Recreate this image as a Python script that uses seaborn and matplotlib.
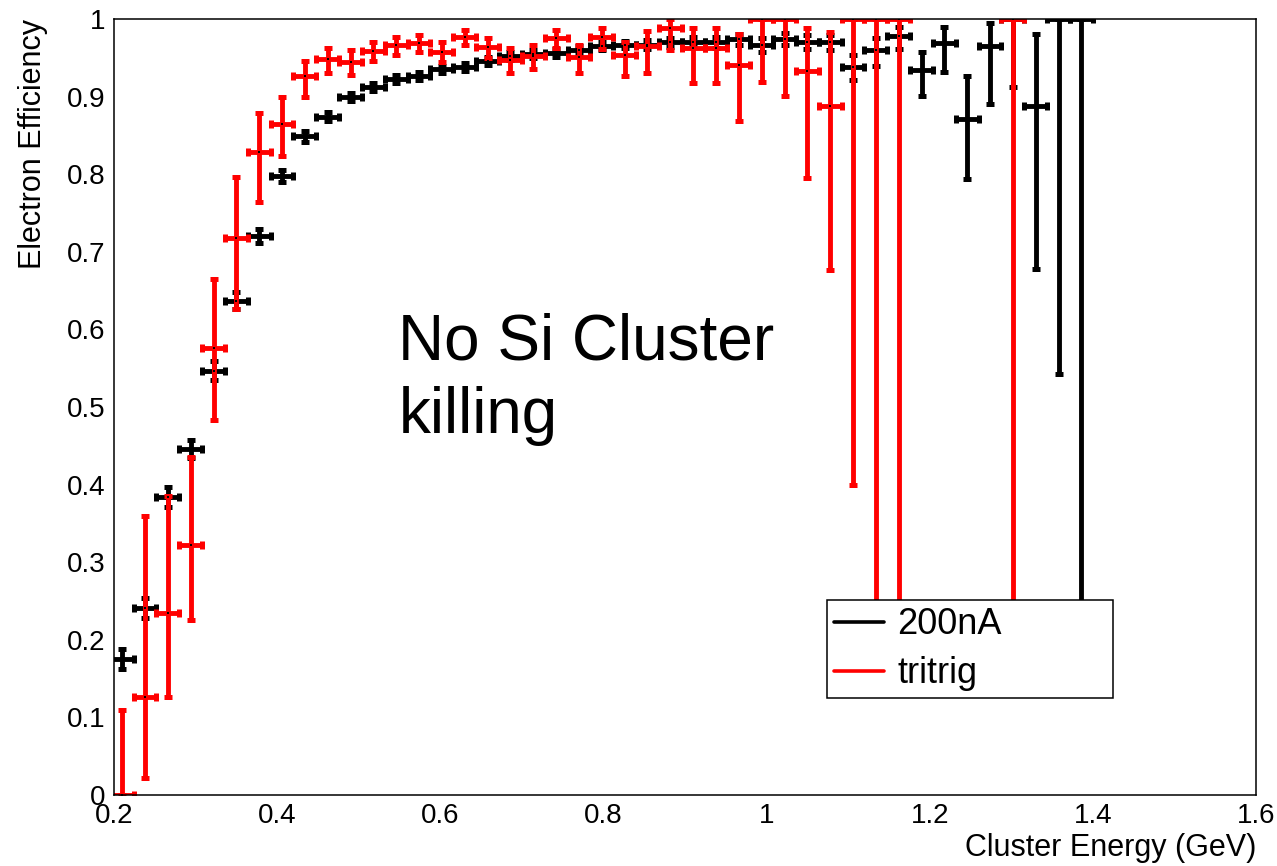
import numpy as np
import pandas as pd
import seaborn as sns
import matplotlib.pyplot as plt
from matplotlib.lines import Line2D
from matplotlib.ticker import MultipleLocator, FixedLocator

# Histogram binning: 0.028 GeV bins, first shown bin centred at 0.21 GeV
bin_width = 0.028
first_center = 0.21
n_bins = 43

# 200nA: efficiency and lower / upper edges of the interval
eff_200nA = [0.175, 0.241, 0.384, 0.446, 0.547, 0.637, 0.720, 0.798, 0.849, 0.874,
             0.899, 0.912, 0.923, 0.927, 0.935, 0.938, 0.946, 0.952, 0.955, 0.956,
             0.960, 0.965, 0.967, 0.967, 0.970, 0.971, 0.970, 0.974, 0.967, 0.974,
             0.970, 0.970, 0.938, 0.960, 0.978, 0.934, 0.969, 0.871, 0.965, 1.000,
             0.888, 1.000, 1.000]
lo_200nA = [0.162, 0.228, 0.371, 0.434, 0.535, 0.626, 0.711, 0.790, 0.842, 0.868,
            0.894, 0.907, 0.918, 0.922, 0.930, 0.933, 0.941, 0.947, 0.950, 0.951,
            0.955, 0.960, 0.962, 0.961, 0.964, 0.965, 0.963, 0.967, 0.958, 0.966,
            0.961, 0.960, 0.922, 0.939, 0.961, 0.901, 0.932, 0.794, 0.890, 0.912,
            0.678, 0.543, 0.159]
hi_200nA = [0.188, 0.254, 0.397, 0.458, 0.559, 0.648, 0.729, 0.806, 0.856, 0.880,
            0.904, 0.917, 0.928, 0.932, 0.940, 0.943, 0.951, 0.957, 0.960, 0.961,
            0.965, 0.970, 0.972, 0.973, 0.976, 0.977, 0.977, 0.981, 0.976, 0.982,
            0.979, 0.980, 0.954, 0.976, 0.990, 0.958, 0.990, 0.926, 0.995, 1.000,
            0.981, 1.000, 1.000]

# tritrig: empty bins have no entry (NaN)
nan = np.nan
eff_tritrig = [0.000, 0.126, 0.235, 0.322, 0.576, 0.718, 0.828, 0.865, 0.926, 0.949,
               0.945, 0.959, 0.966, 0.969, 0.958, 0.977, 0.964, 0.947, 0.952, 0.975,
               0.951, 0.977, 0.954, 0.965, 0.988, 0.963, 0.963, 0.941, 1.000, 1.000,
               0.933, 0.888, 1.000, 1.000, 1.000, nan, nan, nan, nan, 1.000,
               nan, nan, nan]
lo_tritrig = [0.000, 0.022, 0.126, 0.225, 0.483, 0.626, 0.764, 0.823, 0.900, 0.931,
              0.928, 0.946, 0.954, 0.957, 0.944, 0.966, 0.950, 0.930, 0.935, 0.962,
              0.930, 0.961, 0.926, 0.931, 0.960, 0.917, 0.917, 0.868, 0.919, 0.901,
              0.795, 0.677, 0.399, 0.159, 0.159, nan, nan, nan, nan, 0.159,
              nan, nan, nan]
hi_tritrig = [0.110, 0.359, 0.385, 0.435, 0.665, 0.796, 0.879, 0.899, 0.946, 0.963,
              0.960, 0.971, 0.977, 0.979, 0.970, 0.986, 0.976, 0.962, 0.967, 0.986,
              0.966, 0.989, 0.971, 0.985, 1.000, 0.988, 0.989, 0.981, 1.000, 1.000,
              0.989, 0.983, 1.000, 1.000, 1.000, nan, nan, nan, nan, 1.000,
              nan, nan, nan]

x_ticks = [0.2, 0.4, 0.6, 0.8, 1.0, 1.2, 1.4, 1.6]
x_ticklabels = ["0.2", "0.4", "0.6", "0.8", "1", "1.2", "1.4", "1.6"]
y_ticks = [0.0, 0.1, 0.2, 0.3, 0.4, 0.5, 0.6, 0.7, 0.8, 0.9, 1.0]
y_ticklabels = ["0", "0.1", "0.2", "0.3", "0.4", "0.5", "0.6", "0.7", "0.8", "0.9", "1"]

centers = first_center + bin_width * np.arange(n_bins)

frames = []
for name, eff, lo, hi in [("200nA", eff_200nA, lo_200nA, hi_200nA),
                          ("tritrig", eff_tritrig, lo_tritrig, hi_tritrig)]:
    frames.append(pd.DataFrame({"energy": centers, "eff": eff, "lo": lo, "hi": hi,
                                "sample": name}))
df = pd.concat(frames, ignore_index=True).dropna()

sns.set_theme(style="white")
plt.rcParams["font.family"] = ["Liberation Sans", "DejaVu Sans"]
plt.rcParams["text.color"] = "black"
plt.rcParams["axes.labelcolor"] = "black"
plt.rcParams["xtick.color"] = "black"
plt.rcParams["ytick.color"] = "black"

fig = plt.figure(figsize=(12.77, 8.66), dpi=100)
ax = fig.add_axes([114 / 1277, 1 - 795 / 866, 1142 / 1277, 776 / 866])

colors = {"200nA": "#000000", "tritrig": "#ff0000"}
for name in ["200nA", "tritrig"]:
    d = df[df["sample"] == name]
    ax.errorbar(d["energy"], d["eff"], xerr=bin_width / 2,
                yerr=[d["eff"] - d["lo"], d["hi"] - d["eff"]],
                fmt="none", ecolor=colors[name], elinewidth=3.5,
                capsize=3.2, capthick=3.6, zorder=2)

sns.scatterplot(data=df, x="energy", y="eff", color="black", marker="s", s=3,
                linewidth=0, ax=ax, zorder=3, legend=False)

ax.set_xlim(0.2, 1.6)
ax.set_ylim(0.0, 1.0)
ax.xaxis.set_major_locator(FixedLocator(x_ticks))
ax.set_xticklabels(x_ticklabels)
ax.xaxis.set_minor_locator(MultipleLocator(0.05))
ax.yaxis.set_major_locator(FixedLocator(y_ticks))
ax.set_yticklabels(y_ticklabels)
ax.yaxis.set_minor_locator(MultipleLocator(0.02))

ax.tick_params(axis="both", which="both", direction="in", colors="black",
               labelcolor="black", labelsize=20, width=1.1, top=False, right=False)
ax.tick_params(axis="x", which="major", length=16.5, pad=6)
ax.tick_params(axis="x", which="minor", length=8.3)
ax.tick_params(axis="y", which="major", length=24.5, pad=6)
ax.tick_params(axis="y", which="minor", length=12.3)
for sp in ax.spines.values():
    sp.set_color("black")
    sp.set_linewidth(1.1)

ax.set_xlabel("Cluster Energy (GeV)", fontsize=22, loc="right", color="black")
ax.xaxis.set_label_coords(1.0, -0.068)
ax.xaxis.label.set_va("center")
ax.set_ylabel("Electron Efficiency", fontsize=22, loc="top", color="black")
ax.yaxis.set_label_coords(-0.071, 1.0)
ax.yaxis.label.set_va("center")

ax.text(0.249, 0.622, "No Si Cluster\nkilling", transform=ax.transAxes,
        fontsize=46, va="top", ha="left", color="black", linespacing=1.3)

handles = [Line2D([], [], color="black", lw=2.6),
           Line2D([], [], color="#ff0000", lw=2.6)]
leg = ax.legend(handles, ["200nA", "tritrig"], loc="upper left",
                bbox_to_anchor=(0.624, 0.126, 0.251, 0.125), mode="expand",
                borderaxespad=0, fontsize=26, frameon=True, fancybox=False,
                framealpha=1, edgecolor="black", facecolor="white",
                handlelength=1.4, handletextpad=0.35, borderpad=0.2,
                labelspacing=0.38)
for t in leg.get_texts():
    t.set_color("black")
leg.get_frame().set_linewidth(1.1)
leg.set_zorder(10)

fig.savefig("out.png", dpi=100)
